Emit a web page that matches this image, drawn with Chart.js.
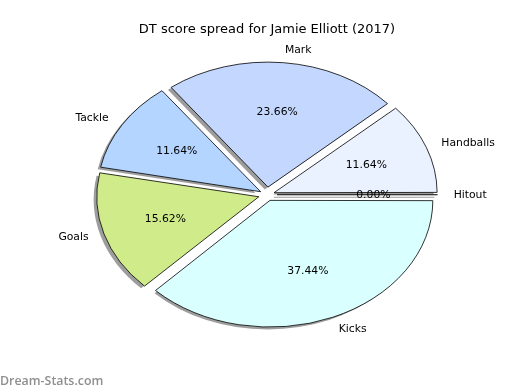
<!DOCTYPE html>
<html>
<head>
<meta charset="utf-8">
<script src="https://cdn.jsdelivr.net/npm/chart.js@4.4.1/dist/chart.umd.min.js"></script>
<style>
  html, body { margin: 0; padding: 0; background: #fff; }
  #wrap { width: 520px; height: 390px; position: relative; }
</style>
</head>
<body>
<div id="wrap"><canvas id="pie" width="520" height="390"></canvas></div>
<script>
// data, in the order matplotlib drew it (counter-clockwise from 3 o'clock)
const categories = ["Handballs", "Mark", "Tackle", "Goals", "Kicks", "Hitout"];
const percents = [11.64, 23.66, 11.64, 15.62, 37.44, 0.00];
const sliceColors = ["#eaf1ff", "#c4d8ff", "#b3d5ff", "#d0eb8a", "#daffff", "#ffffff"];

const titleText = "DT score spread for Jamie Elliott (2017)";
const watermark = "Dream-Stats.com";

// look of the pie
const SQUASH = 0.778;   // vertical / horizontal radius
const EXPLODE = 10;     // px each wedge is pushed out
const SHADOW = 3.2;     // shadow shift
const FONT = "DejaVu Sans";

// chart.js goes clockwise, so feed it the slices backwards
const cjsLabels = categories.slice().reverse();
const cjsData = percents.slice().reverse();
const cjsColors = sliceColors.slice().reverse();
const total = percents.reduce((a, b) => a + b, 0);

// arc.draw moves a wedge by offset/4 * (2 - sin(circ)), undo that so every wedge moves EXPLODE px
function explodeOffset(c) {
  const circ = c.parsed / total * 2 * Math.PI;
  const fix = 1 - Math.sin(Math.min(Math.PI, circ));
  return 4 * EXPLODE / (1 + fix);
}

const ellipsePie = {
  id: "ellipsePie",
  beforeDatasetsDraw(chart) {
    const ctx = chart.ctx;
    const arcs = chart.getDatasetMeta(0).data;
    const cx = arcs[0].x, cy = arcs[0].y;
    ctx.save();
    ctx.translate(cx, cy);
    ctx.scale(1, SQUASH);
    ctx.translate(-cx, -cy);
    // shadows under all wedges
    arcs.forEach(a => {
      const mid = (a.startAngle + a.endAngle) / 2;
      const ox = a.x + Math.cos(mid) * EXPLODE - SHADOW;
      const oy = a.y + Math.sin(mid) * EXPLODE + SHADOW;
      if (a.endAngle - a.startAngle > 0) {
        ctx.beginPath();
        ctx.moveTo(ox, oy);
        ctx.arc(ox, oy, a.outerRadius, a.startAngle, a.endAngle);
        ctx.closePath();
        ctx.fillStyle = "rgba(60,60,60,0.5)";
        ctx.fill();
      } else {
        ctx.beginPath();
        ctx.moveTo(ox, oy);
        ctx.lineTo(ox + Math.cos(a.startAngle) * a.outerRadius, oy + Math.sin(a.startAngle) * a.outerRadius);
        ctx.strokeStyle = "rgba(60,60,60,0.5)";
        ctx.lineWidth = 1.5;
        ctx.stroke();
      }
    });
  },
  afterDatasetsDraw(chart) {
    const ctx = chart.ctx;
    const arcs = chart.getDatasetMeta(0).data;
    // zero-size wedges are skipped by chart.js, matplotlib still draws the edge
    arcs.forEach(a => {
      if (a.endAngle - a.startAngle > 0) return;
      const ox = a.x + Math.cos(a.startAngle) * EXPLODE;
      const oy = a.y + Math.sin(a.startAngle) * EXPLODE;
      ctx.beginPath();
      ctx.moveTo(ox, oy);
      ctx.lineTo(ox + Math.cos(a.startAngle) * a.outerRadius, oy + Math.sin(a.startAngle) * a.outerRadius);
      ctx.strokeStyle = "#000";
      ctx.lineWidth = 1.2;
      ctx.stroke();
    });
    ctx.restore();

    // labels outside, percentages inside
    ctx.save();
    ctx.fillStyle = "#000";
    ctx.font = "10.8px '" + FONT + "'";
    ctx.textBaseline = "middle";
    arcs.forEach((a, i) => {
      const mid = (a.startAngle + a.endAngle) / 2;
      const c = Math.cos(mid), s = Math.sin(mid);
      const ex = a.x + c * EXPLODE, ey = a.y + s * EXPLODE * SQUASH;
      const r = a.outerRadius;
      ctx.textAlign = c > 0 ? "left" : "right";
      ctx.fillText(cjsLabels[i], ex + c * r * 1.1, ey + s * r * 1.1 * SQUASH);
      ctx.textAlign = "center";
      ctx.fillText(cjsData[i].toFixed(2) + "%", ex + c * r * 0.6, ey + s * r * 0.6 * SQUASH);
    });
    ctx.restore();
  },
  afterDraw(chart) {
    const ctx = chart.ctx;
    ctx.save();
    ctx.font = "600 12.4px 'Open Sans'";
    ctx.fillStyle = "#8f8f8f";
    ctx.textAlign = "left";
    ctx.textBaseline = "alphabetic";
    ctx.fillText(watermark, 0, 385);
    ctx.restore();
  }
};

new Chart(document.getElementById("pie"), {
  type: "pie",
  data: {
    labels: cjsLabels,
    datasets: [{
      data: cjsData,
      backgroundColor: cjsColors,
      borderColor: "#000",
      borderWidth: 0.9,
      offset: explodeOffset,
      clip: false
    }]
  },
  options: {
    responsive: false,
    animation: false,
    rotation: 90,
    radius: 160.6,
    layout: { padding: { left: 14, right: 0, top: 0, bottom: 48 } },
    plugins: {
      legend: { display: false },
      tooltip: { enabled: false },
      title: {
        display: true,
        text: titleText,
        color: "#000",
        font: { family: FONT, size: 13, weight: "normal" },
        padding: { top: 22, bottom: 10 }
      }
    }
  },
  plugins: [ellipsePie]
});
</script>
</body>
</html>
